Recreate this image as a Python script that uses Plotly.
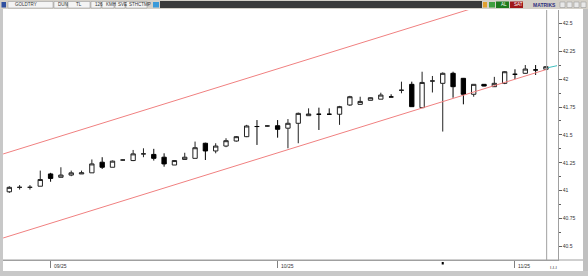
import plotly.graph_objects as go

# ---- data (daily candles) ----
idx = list(range(53))
opens = [40.99, 41.03, 41.03, 41.04, 41.15, 41.12, 41.14, 41.15, 41.16, 41.255,
         41.21, 41.275, 41.27, 41.33, 41.325, 41.30, 41.23, 41.28, 41.29, 41.425,
         41.356, 41.40, 41.445, 41.484, 41.575, 41.58, 41.582, 41.56, 41.604, 41.672,
         41.685, 41.685, 41.685, 41.768, 41.774, 41.81, 41.82, 41.84, 41.90, 41.953,
         41.744, 41.983, 41.962, 42.052, 42.007, 41.864, 41.953, 41.932, 41.962, 42.043,
         42.052, 42.082, 42.088]
highs = [41.04, 41.05, 41.05, 41.18, 41.16, 41.21, 41.18, 41.18, 41.28, 41.30,
         41.27, 41.28, 41.365, 41.38, 41.375, 41.335, 41.27, 41.34, 41.44, 41.43,
         41.425, 41.47, 41.49, 41.59, 41.633, 41.585, 41.633, 41.642, 41.70, 41.738,
         41.744, 41.738, 41.76, 41.85, 41.842, 41.835, 41.878, 41.864, 41.977, 41.977,
         42.066, 42.028, 42.06, 42.066, 42.01, 41.953, 41.955, 42.02, 42.07, 42.088,
         42.126, 42.126, 42.115]
lows = [40.98, 41.01, 41.01, 41.04, 41.08, 41.12, 41.13, 41.15, 41.16, 41.195,
        41.21, 41.27, 41.265, 41.30, 41.27, 41.215, 41.23, 41.28, 41.29, 41.275,
        41.335, 41.39, 41.44, 41.48, 41.41, 41.575, 41.475, 41.38, 41.425, 41.672,
        41.544, 41.685, 41.59, 41.76, 41.77, 41.81, 41.82, 41.84, 41.873, 41.753,
        41.744, 41.88, 41.53, 41.833, 41.774, 41.842, 41.935, 41.93, 41.955, 42.0,
        42.05, 42.037, 42.085]
closes = [41.03, 41.03, 41.03, 41.10, 41.11, 41.14, 41.16, 41.16, 41.24, 41.21,
          41.265, 41.275, 41.33, 41.33, 41.29, 41.24, 41.27, 41.30, 41.385, 41.356,
          41.40, 41.448, 41.484, 41.58, 41.575, 41.58, 41.55, 41.604, 41.693, 41.687,
          41.685, 41.685, 41.753, 41.842, 41.80, 41.833, 41.857, 41.84, 41.90, 41.753,
          41.97, 41.983, 42.052, 41.932, 41.864, 41.953, 41.938, 41.962, 42.066, 42.043,
          42.09, 42.082, 42.111]

# channel lines (end points)
lower_x = [-0.6, 52]
lower_y = [40.576, 42.085]
upper_x = [-0.6, 52]
upper_y = [41.329, 42.838]

month_ticks = [4, 26, 49]
month_labels = ["09/25", "10/25", "11/25"]

y_ticks = [40.5, 40.75, 41.0, 41.25, 41.5, 41.75, 42.0, 42.25, 42.5]
y_labels = ["40.5", "40.75", "41", "41.25", "41.5", "41.75", "42", "42.25", "42.5"]

W, H = 588, 276
def px(x):
    return x / W
def py(y):
    return 1 - y / H

fig = go.Figure()

fig.add_trace(go.Scatter(x=lower_x, y=lower_y, mode="lines",
                         line=dict(color="#f08080", width=1), hoverinfo="skip"))
fig.add_trace(go.Scatter(x=upper_x, y=upper_y, mode="lines",
                         line=dict(color="#f08080", width=1), hoverinfo="skip"))

fig.add_trace(go.Candlestick(
    x=idx, open=opens, high=highs, low=lows, close=closes,
    increasing=dict(line=dict(color="#222222", width=1), fillcolor="white"),
    decreasing=dict(line=dict(color="#000000", width=1), fillcolor="black"),
    whiskerwidth=0,
))

font_small = dict(family="Liberation Sans, DejaVu Sans", size=5, color="#333333")

shapes = []
# vertical separator line at the last bar
shapes.append(dict(type="line", xref="x", yref="paper", x0=idx[-1] + 0.07, x1=idx[-1] + 0.07,
                   y0=py(260), y1=py(10), line=dict(color="#a0a0a0", width=1)))
# cyan short line
shapes.append(dict(type="line", xref="paper", yref="paper", x0=px(548), x1=px(557),
                   y0=py(67.7), y1=py(65.7), line=dict(color="#40c0c0", width=1)))
# left border
shapes.append(dict(type="rect", xref="paper", yref="paper", x0=0, x1=px(3), y0=0, y1=py(9),
                   fillcolor="#c8c8c8", line=dict(width=0), layer="above"))
# right scroll strip
shapes.append(dict(type="rect", xref="paper", yref="paper", x0=px(583), x1=1, y0=py(271), y1=py(9),
                   fillcolor="#c0c0c0", line=dict(width=0), layer="above"))
# bottom horizontal line extension and band
shapes.append(dict(type="line", xref="paper", yref="paper", x0=px(3), x1=px(583),
                   y0=py(260), y1=py(260), line=dict(color="#a0a0a0", width=1)))
shapes.append(dict(type="rect", xref="paper", yref="paper", x0=0, x1=1, y0=0, y1=py(271),
                   fillcolor="#c8c8c8", line=dict(width=0), layer="above"))
# top toolbar
shapes.append(dict(type="rect", xref="paper", yref="paper", x0=0, x1=1, y0=py(9), y1=1,
                   fillcolor="#d4d0c8", line=dict(width=0), layer="above"))
shapes.append(dict(type="rect", xref="paper", yref="paper", x0=px(160), x1=px(482), y0=py(8), y1=py(1),
                   fillcolor="#3a3a3a", line=dict(width=0), layer="above"))
for a, b in [(8, 53), (54, 67), (68, 90), (91, 101), (102, 114), (115, 125), (126, 147)]:
    shapes.append(dict(type="rect", xref="paper", yref="paper", x0=px(a), x1=px(b), y0=py(8), y1=py(1.5),
                       fillcolor="#f4f4f4", line=dict(color="#909090", width=0.5), layer="above"))
shapes.append(dict(type="rect", xref="paper", yref="paper", x0=px(1.5), x1=px(6), y0=py(7.5), y1=py(2),
                   fillcolor="#3050a0", line=dict(width=0), layer="above"))
shapes.append(dict(type="rect", xref="paper", yref="paper", x0=px(153), x1=px(159), y0=py(7.5), y1=py(2),
                   fillcolor="#3a9ad9", line=dict(width=0), layer="above"))
shapes.append(dict(type="rect", xref="paper", yref="paper", x0=px(483), x1=px(487), y0=py(7.5), y1=py(2),
                   fillcolor="#e0a030", line=dict(width=0), layer="above"))
shapes.append(dict(type="rect", xref="paper", yref="paper", x0=px(489), x1=px(495), y0=py(7.5), y1=py(2),
                   fillcolor="#40a040", line=dict(width=0), layer="above"))
shapes.append(dict(type="rect", xref="paper", yref="paper", x0=px(496), x1=px(509), y0=py(8), y1=py(1.5),
                   fillcolor="#1e7a1e", line=dict(width=0), layer="above"))
shapes.append(dict(type="rect", xref="paper", yref="paper", x0=px(510), x1=px(523), y0=py(8), y1=py(1.5),
                   fillcolor="#a01818", line=dict(width=0), layer="above"))
for a in [560, 567, 574, 581]:
    shapes.append(dict(type="rect", xref="paper", yref="paper", x0=px(a), x1=px(a + 5), y0=py(7.5), y1=py(2),
                       fillcolor="#e8e8e8", line=dict(color="#909090", width=0.5), layer="above"))
# small marker on time axis
shapes.append(dict(type="rect", xref="x", yref="paper", x0=42 - 0.1, x1=42 + 0.1, y0=py(264.5), y1=py(262),
                   fillcolor="black", line=dict(width=0)))

annotations = []
for t, lab in zip(month_ticks, month_labels):
    annotations.append(dict(x=t, xref="x", y=py(266), yref="paper", text=lab, showarrow=False,
                            xanchor="left", yanchor="middle", xshift=1, font=font_small))
tb_font = dict(family="Liberation Sans, DejaVu Sans", size=4.5, color="#333333")
for xx, tx in [(13, "GOLDTRY"), (56, "DUN"), (74, "TL"), (93, "126"), (104, "KMH"), (116, "SVE"), (127, "STHCTMP")]:
    annotations.append(dict(x=px(xx), xref="paper", y=py(4.8), yref="paper", text=tx, showarrow=False,
                            xanchor="left", yanchor="middle", font=tb_font))
annotations.append(dict(x=px(499), xref="paper", y=py(4.8), yref="paper", text="AL", showarrow=False,
                        xanchor="left", yanchor="middle", font=dict(family="Liberation Sans", size=4.5, color="white")))
annotations.append(dict(x=px(512), xref="paper", y=py(4.8), yref="paper", text="SAT", showarrow=False,
                        xanchor="left", yanchor="middle", font=dict(family="Liberation Sans", size=4.5, color="white")))
annotations.append(dict(x=px(531), xref="paper", y=py(4.8), yref="paper", text="<b>MATRIKS</b>", showarrow=False,
                        xanchor="left", yanchor="middle", font=dict(family="Liberation Sans", size=5, color="#303080")))
annotations.append(dict(x=px(548), xref="paper", y=py(267), yref="paper", text="ı.ı.ı", showarrow=False,
                        xanchor="left", yanchor="middle", font=font_small))

fig.update_layout(
    width=W, height=H,
    margin=dict(l=0, r=0, t=0, b=0),
    paper_bgcolor="white", plot_bgcolor="white",
    showlegend=False,
    boxgap=0.4,
    xaxis=dict(domain=[0, 557.7 / W], range=[-0.901, 53.14], showgrid=False, zeroline=False,
               showline=True, linecolor="#a0a0a0", linewidth=1,
               tickvals=month_ticks, ticks="outside", ticklen=7, tickcolor="#808080",
               showticklabels=False, rangeslider=dict(visible=False), fixedrange=True),
    yaxis=dict(domain=[1 - 260 / H, 1 - 10 / H], range=[40.3789, 42.6192], side="right",
               showgrid=False, zeroline=False, showline=True, linecolor="#a0a0a0", linewidth=1,
               tickvals=y_ticks, ticktext=y_labels, ticks="outside", ticklen=3, tickcolor="#606060",
               tickfont=font_small,
               minor=dict(dtick=0.125, tick0=40.5, ticks="outside", ticklen=2, tickcolor="#606060"),
               fixedrange=True),
    shapes=shapes,
    annotations=annotations,
)

fig.write_html("out.html")
